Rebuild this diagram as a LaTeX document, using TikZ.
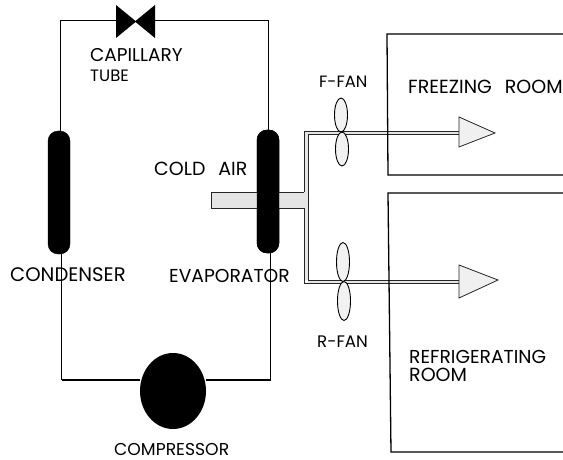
\documentclass[tikz,border=0pt]{standalone}
\usepackage{fontspec}
\setmainfont{Poppins}
\usetikzlibrary{shapes.geometric}
\newcommand{\sz}[1]{\fontsize{#1}{#1}\selectfont}
\tikzset{
  wire/.style={draw=black,line width=1pt},
  wirebold/.style={draw=black,line width=1.5pt},
  wall/.style={draw=black,line width=1.3pt},
  coil/.style={draw=black,fill=black,rounded corners=10pt,minimum width=22pt,inner sep=0pt},
  ductline/.style={draw=black!85,line width=.8pt},
  duct/.style={fill=black!10},
  blade/.style={draw=black,fill=black!5,line width=.9pt,ellipse,inner sep=0pt,minimum width=13pt},
  head/.style={draw=black!85,fill=black!6,line width=.8pt,line join=miter},
  lbl/.style={anchor=west,inner sep=0pt,text=black,align=left}
}
\begin{document}
\begin{tikzpicture}[x=1pt,y=-1pt]
\useasboundingbox (0,0) rectangle (563,460);
% refrigerant circuit
\node[coil,minimum height=123pt] (cond) at (59,192.5) {};
\node[coil,minimum height=123pt] (evap) at (268,191.5) {};
\node[ellipse,fill=black,inner sep=0pt,minimum width=66pt,minimum height=76pt] (comp) at (173,391) {};
\coordinate (valve) at (135.5,21);
\coordinate (vw) at (116,21);
\coordinate (ve) at (155,21);
\fill (116,5) -- (135.5,21) -- (155,5) -- (155,38) -- (135.5,22) -- (116,38) -- cycle;
\coordinate (tl) at (60,21);
\coordinate (tr) at (268,21);
\coordinate (bl) at (61.5,380);
\coordinate (br) at (270.5,380);
\draw[wire] (vw) -- (tl) -- (cond.north -| tl);
\draw[wire] (ve) -- (tr) -- (evap.north);
\draw[wire] (cond.south -| bl) -- (bl);
\draw[wirebold] (bl) -- (comp.west |- bl);
\draw[wire] (evap.south -| br) -- (br);
\draw[wirebold] (br) -- (comp.east |- br);
% duct
\coordinate (dt) at (304,192);
\coordinate (db) at (304,208);
\coordinate (ua) at (304,131);
\coordinate (ub) at (459,131);
\coordinate (ui) at (308,134);
\coordinate (uj) at (459,134);
\coordinate (la) at (304,283);
\coordinate (lb) at (459,283);
\coordinate (li) at (308,280);
\coordinate (lj) at (459,280);
\fill[duct] (211,192) rectangle (304,208);
\fill[duct] (ua) rectangle (li);
\fill[duct] (ua) rectangle (uj);
\fill[duct] (li) rectangle (lb);
\draw[ductline] (dt) -- (211,192) -- (211,208) -- (db) -- (la) -- (lb);
\draw[ductline] (dt) -- (ua) -- (ub);
\draw[ductline] (uj) -- (ui) -- (li) -- (lj);
\node[coil,minimum height=123pt] at (evap) {};
% rooms
\coordinate (fa) at (563,34);
\coordinate (fb) at (387,34);
\coordinate (fc) at (388,175);
\coordinate (fd) at (563,175);
\coordinate (ra) at (563,193);
\coordinate (rb) at (388,193);
\coordinate (rc) at (391,452);
\coordinate (rd) at (563,452);
\draw[wall] (fa) -- (fb) -- (fc) -- (fd);
\draw[wall] (ra) -- (rb) -- (rc) -- (rd);
% arrow heads
\draw[head] (459,117) -- (495,133) -- (459,147) -- cycle;
\draw[head] (459,265) -- (498,280) -- (459,298) -- cycle;
% fans
\node[blade,minimum height=34pt] (f1) at (341,115) {};
\node[blade,minimum height=34pt] (f2) at (342,149) {};
\node[blade,minimum height=39pt] (r1) at (343,262) {};
\node[blade,minimum height=39pt] (r2) at (344,301) {};
% labels
\node[lbl,font=\sz{18.5}] (t1) at (90,55) {CAPILLARY};
\node[lbl,font=\sz{16.5}] (t2) at (90,76) {TUBE};
\node[lbl,font=\sz{19}] (t3) at (154,169) {COLD\hspace{13pt}AIR};
\node[lbl,font=\sz{19.6}] (t4) at (10,275) {CONDENSER};
\node[lbl,font=\sz{18.7}] (t5) at (169,276) {EVAPORATOR};
\node[lbl,font=\sz{17.2}] (t6) at (114,449) {COMPRESSOR};
\node[lbl,font=\sz{16.4}] (t7) at (319,82) {F-FAN};
\node[lbl,font=\sz{19}] (t8) at (408,87) {FREEZING\hspace{13pt}ROOM};
\node[lbl,font=\sz{16.7}] (t9) at (317,342) {R-FAN};
\node[lbl,font=\sz{18.7}] (t10) at (409,357) {REFRIGERATING};
\node[lbl,font=\sz{19}] (t11) at (409,375) {ROOM};
\end{tikzpicture}
\end{document}
